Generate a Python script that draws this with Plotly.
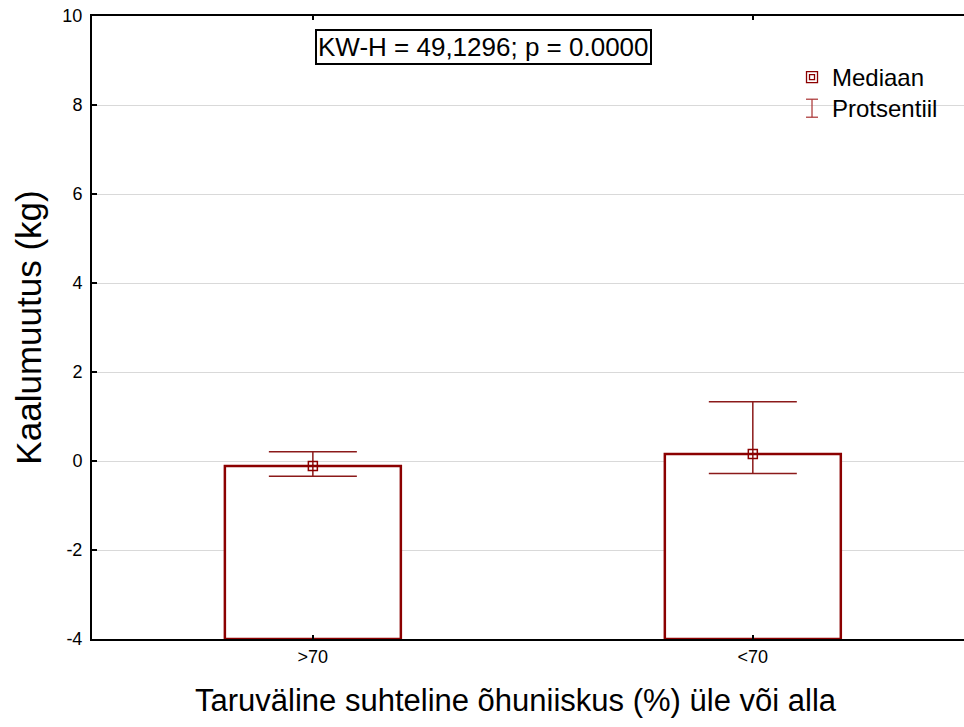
import plotly.graph_objects as go

# Data: median weight change per humidity group with percentile range
categories = [">70", "<70"]
medians = [-0.11, 0.16]
pct_upper = [0.21, 1.33]
pct_lower = [-0.34, -0.28]
y_ticks = [-4, -2, 0, 2, 4, 6, 8, 10]
y_tick_text = ["-4", "-2", "0", "2", "4", "6", "8", "10"]

axis_floor = -4
dark_red = "#8B0000"
font_family = "Arial, Liberation Sans, sans-serif"

x_pos = list(range(len(categories)))

fig = go.Figure()

# Bars rise from the bottom of the axis to the median
fig.add_trace(go.Bar(
    x=x_pos,
    y=[m - axis_floor for m in medians],
    base=[axis_floor] * len(medians),
    width=0.4,
    marker=dict(color="white", line=dict(color=dark_red, width=2.5)),
    showlegend=False,
    hoverinfo="skip",
))

# Median markers with percentile whiskers
fig.add_trace(go.Scatter(
    x=x_pos,
    y=medians,
    mode="markers",
    marker=dict(symbol="square-open-dot", size=9, color=dark_red,
                line=dict(color=dark_red, width=1.5)),
    error_y=dict(
        type="data",
        symmetric=False,
        array=[u - m for u, m in zip(pct_upper, medians)],
        arrayminus=[m - l for m, l in zip(medians, pct_lower)],
        color="#8B1A1A",
        thickness=1.5,
        width=44,
    ),
    showlegend=False,
))

# Statistic box
fig.add_annotation(
    text="KW-H = 49,1296; p = 0.0000",
    xref="paper", yref="paper", x=0.4495, y=0.951,
    xanchor="center", yanchor="middle", showarrow=False,
    font=dict(family=font_family, size=26, color="black"),
    bgcolor="white", bordercolor="black", borderwidth=2, borderpad=1,
)

# X-axis title placed as free text below the tick labels
fig.add_annotation(
    text="Taruväline suhteline õhuniiskus (%) üle või alla",
    xref="paper", yref="paper", x=0.486, y=-0.098,
    xanchor="center", yanchor="middle", showarrow=False,
    font=dict(family=font_family, size=31, color="black"),
)

# Hand-drawn legend
leg_x = 0.8257
leg_y1 = 0.902
leg_y2 = 0.852
ibeam = "#A83030"
shapes = [
    dict(type="rect", xref="paper", yref="paper",
         xsizemode="pixel", ysizemode="pixel",
         xanchor=leg_x, yanchor=leg_y1, x0=-5.5, x1=5.5, y0=-5.5, y1=5.5,
         line=dict(color=dark_red, width=1.3), fillcolor="white"),
    dict(type="rect", xref="paper", yref="paper",
         xsizemode="pixel", ysizemode="pixel",
         xanchor=leg_x, yanchor=leg_y1, x0=-2.5, x1=2.5, y0=-2.5, y1=2.5,
         line=dict(color=dark_red, width=1.3), fillcolor="white"),
    dict(type="line", xref="paper", yref="paper",
         xsizemode="pixel", ysizemode="pixel",
         xanchor=leg_x, yanchor=leg_y2, x0=0, x1=0, y0=-9, y1=9,
         line=dict(color=ibeam, width=1.2)),
    dict(type="line", xref="paper", yref="paper",
         xsizemode="pixel", ysizemode="pixel",
         xanchor=leg_x, yanchor=leg_y2, x0=-6, x1=6, y0=9, y1=9,
         line=dict(color=ibeam, width=1.2)),
    dict(type="line", xref="paper", yref="paper",
         xsizemode="pixel", ysizemode="pixel",
         xanchor=leg_x, yanchor=leg_y2, x0=-6, x1=6, y0=-9, y1=-9,
         line=dict(color=ibeam, width=1.2)),
]
for label, ly in [("Mediaan", leg_y1), ("Protsentiil", leg_y2)]:
    fig.add_annotation(
        text=label, xref="paper", yref="paper", x=0.8463, y=ly,
        xanchor="left", yanchor="middle", showarrow=False,
        font=dict(family=font_family, size=24, color="black"),
    )

fig.update_layout(
    width=964, height=727,
    margin=dict(l=92, r=0, t=16, b=88),
    paper_bgcolor="white", plot_bgcolor="white",
    font=dict(family=font_family, color="black"),
    shapes=shapes,
    showlegend=False,
    xaxis=dict(
        range=[-0.502, 1.48],
        tickmode="array", tickvals=x_pos, ticktext=categories,
        ticks="inside", ticklen=4, tickwidth=1.5, tickcolor="black",
        showline=True, linecolor="black", linewidth=2, mirror="ticks",
        showgrid=False, zeroline=False,
        tickfont=dict(size=18, family=font_family),
    ),
    yaxis=dict(
        range=[-4, 10],
        tickmode="array", tickvals=y_ticks, ticktext=y_tick_text,
        ticks="inside", ticklen=5, tickwidth=1.5, tickcolor="black",
        ticklabelstandoff=4,
        showline=True, linecolor="black", linewidth=2, mirror=False,
        showgrid=True, gridcolor="#d9d9d9", gridwidth=1, zeroline=False,
        tickfont=dict(size=18, family=font_family),
        title=dict(text="Kaalumuutus (kg)",
                   font=dict(size=35, family=font_family), standoff=10),
    ),
)

fig.write_html("out.html")
